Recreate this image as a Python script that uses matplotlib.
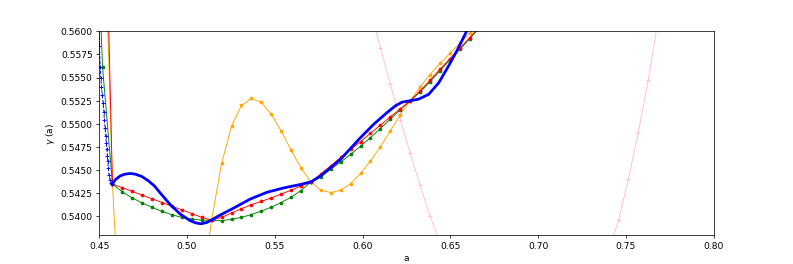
import numpy as np
import matplotlib.pyplot as plt

# sample grid (k = -2 ... 37)
a_grid = [0.4463, 0.45195, 0.4576, 0.46325, 0.4689, 0.47455, 0.4802, 0.48585,
          0.4915, 0.49715, 0.5028, 0.50845, 0.5141, 0.51975, 0.5254, 0.53105,
          0.5367, 0.54235, 0.548, 0.55365, 0.5593, 0.56495, 0.5706, 0.57625,
          0.5819, 0.58755, 0.5932, 0.59885, 0.6045, 0.61015, 0.6158, 0.62145,
          0.6271, 0.63275, 0.6384, 0.64405, 0.6497, 0.65535, 0.661, 0.66665]

gamma_red = [0.6100, 0.5879, 0.5435, 0.5431, 0.5427, 0.5423, 0.5419, 0.5415,
             0.5411, 0.5407, 0.5403, 0.5399, 0.5396, 0.5399, 0.54036, 0.54084,
             0.54127, 0.54163, 0.54199, 0.54242, 0.54283, 0.54329, 0.54373, 0.5446,
             0.54547, 0.54638, 0.54725, 0.54808, 0.54899, 0.54986, 0.55076, 0.5516,
             0.5525, 0.55355, 0.55471, 0.5559, 0.55705, 0.55815, 0.55932, 0.5605]

gamma_green = [0.5836, 0.5561, 0.5435, 0.54264, 0.54199, 0.54145, 0.54098, 0.54054,
               0.54018, 0.53989, 0.53971, 0.5396, 0.53957, 0.53955, 0.53968, 0.5399,
               0.5402, 0.54058, 0.541, 0.5415, 0.54207, 0.5428, 0.54373, 0.5443,
               0.5451, 0.54587, 0.54671, 0.54758, 0.54851, 0.54949, 0.55051, 0.55155,
               0.5525, 0.55345, 0.55455, 0.55572, 0.5569, 0.55804, 0.5592, 0.5604]

# orange: only the points around the visible window
a_orange = [0.45195, 0.4576, 0.46325, 0.50845, 0.5141, 0.51975, 0.5254, 0.53105,
            0.5367, 0.54235, 0.548, 0.55365, 0.5593, 0.56495, 0.5706, 0.57625,
            0.5819, 0.58755, 0.5932, 0.59885, 0.6045, 0.61015, 0.6158, 0.62145,
            0.6271, 0.63275, 0.6384, 0.64405, 0.6497, 0.65535, 0.661, 0.66665]
gamma_orange = [0.5794, 0.5435, 0.5230, 0.5317, 0.5397, 0.54573, 0.54975, 0.55199,
                0.55275, 0.55232, 0.55105, 0.54924, 0.54717, 0.54525, 0.54373, 0.54283,
                0.54258, 0.54283, 0.54355, 0.54464, 0.54598, 0.54753, 0.54924, 0.55098,
                0.5525, 0.55399, 0.55533, 0.55653, 0.55762, 0.5587, 0.5598, 0.5609]

a_pink = [0.6045, 0.61015, 0.6158, 0.62145, 0.6271, 0.63275, 0.6384, 0.64405,
          0.7401, 0.74575, 0.7514, 0.75705, 0.7627, 0.76835]
gamma_pink = [0.5622, 0.55823, 0.55432, 0.55043, 0.54688, 0.54337, 0.54008, 0.53707,
              0.53616, 0.53957, 0.54405, 0.5491, 0.55475, 0.5613]

a_blue_left = [0.4499, 0.4502, 0.4506, 0.4510, 0.4513, 0.4518, 0.4523, 0.4527,
               0.4530, 0.4534, 0.4538, 0.4541, 0.4544, 0.4547, 0.4549, 0.4552,
               0.4556, 0.4562, 0.4568, 0.4576]
gamma_blue_left = [0.5610, 0.55837, 0.55612, 0.555, 0.55402, 0.5531, 0.55223, 0.5513,
                   0.5504, 0.54951, 0.5487, 0.54793, 0.54728, 0.54652, 0.54598, 0.54527,
                   0.54451, 0.54397, 0.54359, 0.5435]

a_blue = [0.4576, 0.4591, 0.4620, 0.4648, 0.4677, 0.4705, 0.4743, 0.4781, 0.4815,
          0.4848, 0.4905, 0.4962, 0.5019, 0.5050, 0.5080, 0.5114, 0.5141, 0.5175,
          0.5220, 0.5266, 0.5361, 0.5456, 0.5551, 0.5646, 0.5706, 0.5760, 0.5874,
          0.5988, 0.6064, 0.6140, 0.6187, 0.6225, 0.6271, 0.6320, 0.6377, 0.6434,
          0.6491, 0.6539, 0.6577, 0.6600]
gamma_blue = [0.5435, 0.54395, 0.54438, 0.54457, 0.54464, 0.54457, 0.54432, 0.54384, 0.54329,
              0.54253, 0.54127, 0.54025, 0.53953, 0.5393, 0.5392, 0.53935, 0.53962, 0.54000,
              0.54045, 0.5409, 0.54188, 0.54261, 0.54308, 0.54345, 0.54373, 0.54435, 0.54616,
              0.54851, 0.54997, 0.55123, 0.55195, 0.55235, 0.5525, 0.55268, 0.5532, 0.55445,
              0.5563, 0.55797, 0.55942, 0.5603]

fig = plt.figure(figsize=(12, 4))

plt.plot(a_pink, gamma_pink, color='pink', marker='+', markersize=4, linewidth=1.0)
plt.plot(a_orange, gamma_orange, color='orange', marker='o', markersize=3, linewidth=1.0)
plt.plot(a_grid, gamma_green, color='green', marker='o', markersize=3, linewidth=1.0)
plt.plot(a_grid, gamma_red, color='red', marker='o', markersize=3, linewidth=1.0)
plt.plot(a_blue_left, gamma_blue_left, 'b--', marker='+', markersize=5, linewidth=1.0)
plt.plot(a_blue, gamma_blue, 'b-', linewidth=3.0)

plt.xlim(0.45, 0.80)
plt.ylim(0.538, 0.560)
plt.xlabel('a')
plt.ylabel(r'$\gamma$ (a)')

ax = plt.gca()
ax.yaxis.set_major_formatter(plt.FormatStrFormatter('%.4f'))

plt.savefig('out.png', dpi=66.09)
